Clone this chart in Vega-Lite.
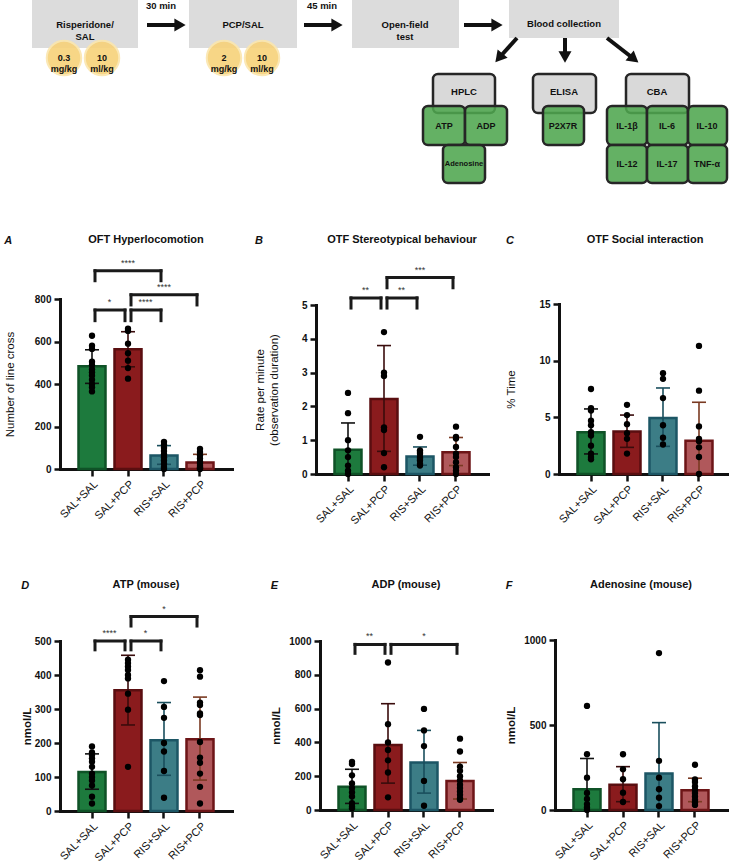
{
"$schema":"https://vega.github.io/schema/vega-lite/v6.json",
"padding":{"left":0,"top":0,"right":0,"bottom":0},
"background":"#ffffff",
"config":{
 "font":"Liberation Sans",
 "view":{"stroke":null},
 "axis":{"grid":false,"domainColor":"#111111","domainWidth":3,"domainCap":"square","tickColor":"#111111","tickWidth":2.5,"labelColor":"#111111","titleColor":"#111111","labelFont":"Liberation Sans","titleFont":"Liberation Sans"},
 "axisY":{"labelFontSize":10,"labelFontWeight":"bold","tickSize":6,"labelPadding":3,"titleFontSize":11.5,"titleFontWeight":"normal","labelOverlap":false,"format":"d"},
 "axisX":{"labelFontSize":11,"labelAngle":-45,"tickSize":7,"labelPadding":2},
 "title":{"fontSize":11,"fontWeight":"bold","color":"#111111","baseline":"bottom","offset":4,"anchor":"middle","font":"Liberation Sans"}
},
"datasets":{
 "anchor":[{"x1":0,"x2":1,"y1":184,"y2":185}],
 "steps":[
  {"x1":32,"x2":138,"y1":0,"y2":48,"cx":85,"cy":25,"t":"Risperidone/\nSAL"},
  {"x1":189,"x2":297,"y1":0,"y2":48,"cx":243,"cy":25,"t":"PCP/SAL"},
  {"x1":352,"x2":459,"y1":0,"y2":48,"cx":405,"cy":25,"t":"Open-field\ntest"},
  {"x1":509,"x2":619,"y1":0,"y2":38,"cx":564,"cy":24,"t":"Blood collection"}
 ],
 "doses":[
  {"cx":64,"cy":58,"t":"0.3\nmg/kg"},{"cx":102,"cy":58,"t":"10\nml/kg"},
  {"cx":224,"cy":58,"t":"2\nmg/kg"},{"cx":262,"cy":58,"t":"10\nml/kg"}
 ],
 "minutes":[{"cx":161,"cy":6,"t":"30 min"},{"cx":322,"cy":6,"t":"45 min"}],
 "arrows":[
  {"x":147,"y":25,"hx":180,"hy":25,"a":90},
  {"x":304,"y":25,"hx":337,"hy":25,"a":90},
  {"x":464,"y":25,"hx":497,"hy":25,"a":90},
  {"x":517,"y":38,"hx":499,"hy":58,"a":220},
  {"x":565,"y":38,"hx":565,"hy":57,"a":180},
  {"x":607,"y":38,"hx":634,"hy":59,"a":129}
 ],
 "labs":[
  {"x1":433,"x2":495,"y1":74,"y2":113,"cx":464,"cy":92,"t":"HPLC"},
  {"x1":533,"x2":596,"y1":74,"y2":113,"cx":564,"cy":92,"t":"ELISA"},
  {"x1":626,"x2":689,"y1":74,"y2":113,"cx":657,"cy":92,"t":"CBA"}
 ],
 "greens":[
  {"x1":423,"x2":465,"y1":106,"y2":145,"cx":444,"cy":126,"t":"ATP"},
  {"x1":465,"x2":507,"y1":106,"y2":145,"cx":486,"cy":126,"t":"ADP"},
  {"x1":443,"x2":485,"y1":145,"y2":183,"cx":464,"cy":164,"t":"Adenosine"},
  {"x1":543,"x2":584,"y1":106,"y2":145,"cx":563,"cy":126,"t":"P2X7R"},
  {"x1":607,"x2":647,"y1":106,"y2":145,"cx":627,"cy":126,"t":"IL-1β"},
  {"x1":647,"x2":688,"y1":106,"y2":145,"cx":667,"cy":126,"t":"IL-6"},
  {"x1":688,"x2":727,"y1":106,"y2":145,"cx":707,"cy":126,"t":"IL-10"},
  {"x1":607,"x2":647,"y1":145,"y2":183,"cx":627,"cy":164,"t":"IL-12"},
  {"x1":647,"x2":688,"y1":145,"y2":183,"cx":667,"cy":164,"t":"IL-17"},
  {"x1":688,"x2":727,"y1":145,"y2":183,"cx":707,"cy":164,"t":"TNF-α"}
 ],
 "bars":[
  {"p":"A","g":"SAL+SAL","m":483,"lo":403,"hi":561},
  {"p":"A","g":"SAL+PCP","m":563,"lo":481,"hi":646},
  {"p":"A","g":"RIS+SAL","m":63,"lo":22,"hi":110},
  {"p":"A","g":"RIS+PCP","m":31,"lo":0,"hi":69},
  {"p":"B","g":"SAL+SAL","m":0.72,"lo":0,"hi":1.51},
  {"p":"B","g":"SAL+PCP","m":2.22,"lo":0.67,"hi":3.8},
  {"p":"B","g":"RIS+SAL","m":0.52,"lo":0.26,"hi":0.8},
  {"p":"B","g":"RIS+PCP","m":0.64,"lo":0.25,"hi":1.08},
  {"p":"C","g":"SAL+SAL","m":3.68,"lo":1.77,"hi":5.74},
  {"p":"C","g":"SAL+PCP","m":3.76,"lo":2.35,"hi":5.2},
  {"p":"C","g":"RIS+SAL","m":4.94,"lo":2.44,"hi":7.59},
  {"p":"C","g":"RIS+PCP","m":2.94,"lo":0,"hi":6.33},
  {"p":"D","g":"SAL+SAL","m":115,"lo":64,"hi":168},
  {"p":"D","g":"SAL+PCP","m":355,"lo":253,"hi":458},
  {"p":"D","g":"RIS+SAL","m":208,"lo":105,"hi":319},
  {"p":"D","g":"RIS+PCP","m":211,"lo":91,"hi":335},
  {"p":"E","g":"SAL+SAL","m":137,"lo":39,"hi":241},
  {"p":"E","g":"SAL+PCP","m":384,"lo":159,"hi":629},
  {"p":"E","g":"RIS+SAL","m":281,"lo":100,"hi":471},
  {"p":"E","g":"RIS+PCP","m":172,"lo":65,"hi":281},
  {"p":"F","g":"SAL+SAL","m":122,"lo":0,"hi":303},
  {"p":"F","g":"SAL+PCP","m":149,"lo":49,"hi":255},
  {"p":"F","g":"RIS+SAL","m":214,"lo":0,"hi":514},
  {"p":"F","g":"RIS+PCP","m":116,"lo":49,"hi":187}
 ],
 "br":[
  {"p":"A","a":"SAL+SAL","b":"RIS+SAL","y":933,"y0":886,"s":"****","k":"span","m":"SAL+PCP"},
  {"p":"A","a":"SAL+PCP","b":"RIS+PCP","y":820,"y0":772,"s":"****","k":"span","m":"RIS+SAL"},
  {"p":"A","a":"SAL+SAL","b":"SAL+PCP","y":748,"y0":698,"s":"*","k":"adj"},
  {"p":"A","a":"SAL+PCP","b":"RIS+SAL","y":748,"y0":698,"s":"****","k":"adj"},
  {"p":"B","a":"SAL+SAL","b":"SAL+PCP","y":5.21,"y0":4.91,"s":"**","k":"adj"},
  {"p":"B","a":"SAL+PCP","b":"RIS+SAL","y":5.21,"y0":4.91,"s":"**","k":"adj"},
  {"p":"B","a":"SAL+PCP","b":"RIS+PCP","y":5.81,"y0":5.51,"s":"***","k":"span","m":"RIS+SAL"},
  {"p":"D","a":"SAL+SAL","b":"SAL+PCP","y":500,"y0":474,"s":"****","k":"adj"},
  {"p":"D","a":"SAL+PCP","b":"RIS+SAL","y":500,"y0":474,"s":"*","k":"adj"},
  {"p":"D","a":"SAL+PCP","b":"RIS+PCP","y":572,"y0":544,"s":"*","k":"span","m":"RIS+SAL"},
  {"p":"E","a":"SAL+SAL","b":"SAL+PCP","y":980,"y0":927,"s":"**","k":"adj"},
  {"p":"E","a":"SAL+PCP","b":"RIS+PCP","y":980,"y0":927,"s":"*","k":"span","m":"RIS+SAL"}
 ],
 "pts":[
  {"p":"A","g":"SAL+SAL","v":627},{"p":"A","g":"SAL+SAL","v":580},{"p":"A","g":"SAL+SAL","v":565},{"p":"A","g":"SAL+SAL","v":505},{"p":"A","g":"SAL+SAL","v":490},{"p":"A","g":"SAL+SAL","v":470},{"p":"A","g":"SAL+SAL","v":455},{"p":"A","g":"SAL+SAL","v":440},{"p":"A","g":"SAL+SAL","v":420},{"p":"A","g":"SAL+SAL","v":400},{"p":"A","g":"SAL+SAL","v":385},{"p":"A","g":"SAL+SAL","v":365},
  {"p":"A","g":"SAL+PCP","v":660},{"p":"A","g":"SAL+PCP","v":650},{"p":"A","g":"SAL+PCP","v":590},{"p":"A","g":"SAL+PCP","v":545},{"p":"A","g":"SAL+PCP","v":510},{"p":"A","g":"SAL+PCP","v":475},{"p":"A","g":"SAL+PCP","v":425},
  {"p":"A","g":"RIS+SAL","v":128},{"p":"A","g":"RIS+SAL","v":115},{"p":"A","g":"RIS+SAL","v":100},{"p":"A","g":"RIS+SAL","v":85},{"p":"A","g":"RIS+SAL","v":70},{"p":"A","g":"RIS+SAL","v":55},{"p":"A","g":"RIS+SAL","v":40},{"p":"A","g":"RIS+SAL","v":25},{"p":"A","g":"RIS+SAL","v":10},{"p":"A","g":"RIS+SAL","v":0},
  {"p":"A","g":"RIS+PCP","v":95},{"p":"A","g":"RIS+PCP","v":80},{"p":"A","g":"RIS+PCP","v":65},{"p":"A","g":"RIS+PCP","v":50},{"p":"A","g":"RIS+PCP","v":35},{"p":"A","g":"RIS+PCP","v":25},{"p":"A","g":"RIS+PCP","v":15},{"p":"A","g":"RIS+PCP","v":8},{"p":"A","g":"RIS+PCP","v":3},{"p":"A","g":"RIS+PCP","v":0},
  {"p":"B","g":"SAL+SAL","v":2.4},{"p":"B","g":"SAL+SAL","v":1.8},{"p":"B","g":"SAL+SAL","v":1.0},{"p":"B","g":"SAL+SAL","v":0.7},{"p":"B","g":"SAL+SAL","v":0.5},{"p":"B","g":"SAL+SAL","v":0.25},{"p":"B","g":"SAL+SAL","v":0.1},{"p":"B","g":"SAL+SAL","v":0},
  {"p":"B","g":"SAL+PCP","v":4.2},{"p":"B","g":"SAL+PCP","v":3.0},{"p":"B","g":"SAL+PCP","v":2.9},{"p":"B","g":"SAL+PCP","v":1.38},{"p":"B","g":"SAL+PCP","v":1.3},{"p":"B","g":"SAL+PCP","v":0.62},{"p":"B","g":"SAL+PCP","v":0.2},
  {"p":"B","g":"RIS+SAL","v":1.1},{"p":"B","g":"RIS+SAL","v":0.7},{"p":"B","g":"RIS+SAL","v":0.65},{"p":"B","g":"RIS+SAL","v":0.6},{"p":"B","g":"RIS+SAL","v":0.5},{"p":"B","g":"RIS+SAL","v":0.45},{"p":"B","g":"RIS+SAL","v":0.4},{"p":"B","g":"RIS+SAL","v":0.3},{"p":"B","g":"RIS+SAL","v":0.25},
  {"p":"B","g":"RIS+PCP","v":1.4},{"p":"B","g":"RIS+PCP","v":1.1},{"p":"B","g":"RIS+PCP","v":1.05},{"p":"B","g":"RIS+PCP","v":0.8},{"p":"B","g":"RIS+PCP","v":0.6},{"p":"B","g":"RIS+PCP","v":0.5},{"p":"B","g":"RIS+PCP","v":0.35},{"p":"B","g":"RIS+PCP","v":0.2},{"p":"B","g":"RIS+PCP","v":0.1},{"p":"B","g":"RIS+PCP","v":0},
  {"p":"C","g":"SAL+SAL","v":7.5},{"p":"C","g":"SAL+SAL","v":5.8},{"p":"C","g":"SAL+SAL","v":5.6},{"p":"C","g":"SAL+SAL","v":4.7},{"p":"C","g":"SAL+SAL","v":4.3},{"p":"C","g":"SAL+SAL","v":3.7},{"p":"C","g":"SAL+SAL","v":3.4},{"p":"C","g":"SAL+SAL","v":2.5},{"p":"C","g":"SAL+SAL","v":1.8},{"p":"C","g":"SAL+SAL","v":1.5},{"p":"C","g":"SAL+SAL","v":1.3},
  {"p":"C","g":"SAL+PCP","v":6.1},{"p":"C","g":"SAL+PCP","v":5.2},{"p":"C","g":"SAL+PCP","v":4.4},{"p":"C","g":"SAL+PCP","v":3.6},{"p":"C","g":"SAL+PCP","v":3.1},{"p":"C","g":"SAL+PCP","v":1.8},
  {"p":"C","g":"RIS+SAL","v":8.9},{"p":"C","g":"RIS+SAL","v":8.4},{"p":"C","g":"RIS+SAL","v":6.7},{"p":"C","g":"RIS+SAL","v":4.3},{"p":"C","g":"RIS+SAL","v":3.2},{"p":"C","g":"RIS+SAL","v":2.6},
  {"p":"C","g":"RIS+PCP","v":11.3},{"p":"C","g":"RIS+PCP","v":7.35},{"p":"C","g":"RIS+PCP","v":4.2},{"p":"C","g":"RIS+PCP","v":3.1},{"p":"C","g":"RIS+PCP","v":2.9},{"p":"C","g":"RIS+PCP","v":2.35},{"p":"C","g":"RIS+PCP","v":1.5},{"p":"C","g":"RIS+PCP","v":0},
  {"p":"D","g":"SAL+SAL","v":190},{"p":"D","g":"SAL+SAL","v":172},{"p":"D","g":"SAL+SAL","v":165},{"p":"D","g":"SAL+SAL","v":155},{"p":"D","g":"SAL+SAL","v":145},{"p":"D","g":"SAL+SAL","v":130},{"p":"D","g":"SAL+SAL","v":110},{"p":"D","g":"SAL+SAL","v":100},{"p":"D","g":"SAL+SAL","v":90},{"p":"D","g":"SAL+SAL","v":75},{"p":"D","g":"SAL+SAL","v":42},{"p":"D","g":"SAL+SAL","v":22},
  {"p":"D","g":"SAL+PCP","v":445},{"p":"D","g":"SAL+PCP","v":435},{"p":"D","g":"SAL+PCP","v":425},{"p":"D","g":"SAL+PCP","v":415},{"p":"D","g":"SAL+PCP","v":400},{"p":"D","g":"SAL+PCP","v":390},{"p":"D","g":"SAL+PCP","v":345},{"p":"D","g":"SAL+PCP","v":298},{"p":"D","g":"SAL+PCP","v":130},
  {"p":"D","g":"RIS+SAL","v":382},{"p":"D","g":"RIS+SAL","v":306},{"p":"D","g":"RIS+SAL","v":274},{"p":"D","g":"RIS+SAL","v":200},{"p":"D","g":"RIS+SAL","v":175},{"p":"D","g":"RIS+SAL","v":118},{"p":"D","g":"RIS+SAL","v":39},
  {"p":"D","g":"RIS+PCP","v":414},{"p":"D","g":"RIS+PCP","v":395},{"p":"D","g":"RIS+PCP","v":319},{"p":"D","g":"RIS+PCP","v":312},{"p":"D","g":"RIS+PCP","v":287},{"p":"D","g":"RIS+PCP","v":282},{"p":"D","g":"RIS+PCP","v":203},{"p":"D","g":"RIS+PCP","v":157},{"p":"D","g":"RIS+PCP","v":142},{"p":"D","g":"RIS+PCP","v":110},{"p":"D","g":"RIS+PCP","v":71},{"p":"D","g":"RIS+PCP","v":22},
  {"p":"E","g":"SAL+SAL","v":285},{"p":"E","g":"SAL+SAL","v":272},{"p":"E","g":"SAL+SAL","v":205},{"p":"E","g":"SAL+SAL","v":157},{"p":"E","g":"SAL+SAL","v":130},{"p":"E","g":"SAL+SAL","v":105},{"p":"E","g":"SAL+SAL","v":80},{"p":"E","g":"SAL+SAL","v":40},{"p":"E","g":"SAL+SAL","v":20},{"p":"E","g":"SAL+SAL","v":10},
  {"p":"E","g":"SAL+PCP","v":873},{"p":"E","g":"SAL+PCP","v":508},{"p":"E","g":"SAL+PCP","v":400},{"p":"E","g":"SAL+PCP","v":355},{"p":"E","g":"SAL+PCP","v":294},{"p":"E","g":"SAL+PCP","v":222},{"p":"E","g":"SAL+PCP","v":75},
  {"p":"E","g":"RIS+SAL","v":598},{"p":"E","g":"RIS+SAL","v":471},{"p":"E","g":"RIS+SAL","v":378},{"p":"E","g":"RIS+SAL","v":172},{"p":"E","g":"RIS+SAL","v":25},
  {"p":"E","g":"RIS+PCP","v":422},{"p":"E","g":"RIS+PCP","v":346},{"p":"E","g":"RIS+PCP","v":257},{"p":"E","g":"RIS+PCP","v":232},{"p":"E","g":"RIS+PCP","v":200},{"p":"E","g":"RIS+PCP","v":175},{"p":"E","g":"RIS+PCP","v":150},{"p":"E","g":"RIS+PCP","v":130},{"p":"E","g":"RIS+PCP","v":110},{"p":"E","g":"RIS+PCP","v":90},{"p":"E","g":"RIS+PCP","v":70},{"p":"E","g":"RIS+PCP","v":60},
  {"p":"F","g":"SAL+SAL","v":612},{"p":"F","g":"SAL+SAL","v":328},{"p":"F","g":"SAL+SAL","v":190},{"p":"F","g":"SAL+SAL","v":100},{"p":"F","g":"SAL+SAL","v":65},{"p":"F","g":"SAL+SAL","v":35},{"p":"F","g":"SAL+SAL","v":15},{"p":"F","g":"SAL+SAL","v":0},
  {"p":"F","g":"SAL+PCP","v":328},{"p":"F","g":"SAL+PCP","v":240},{"p":"F","g":"SAL+PCP","v":181},{"p":"F","g":"SAL+PCP","v":102},{"p":"F","g":"SAL+PCP","v":47},
  {"p":"F","g":"RIS+SAL","v":923},{"p":"F","g":"RIS+SAL","v":289},{"p":"F","g":"RIS+SAL","v":190},{"p":"F","g":"RIS+SAL","v":122},{"p":"F","g":"RIS+SAL","v":72},{"p":"F","g":"RIS+SAL","v":23},
  {"p":"F","g":"RIS+PCP","v":266},{"p":"F","g":"RIS+PCP","v":180},{"p":"F","g":"RIS+PCP","v":165},{"p":"F","g":"RIS+PCP","v":140},{"p":"F","g":"RIS+PCP","v":120},{"p":"F","g":"RIS+PCP","v":100},{"p":"F","g":"RIS+PCP","v":80},{"p":"F","g":"RIS+PCP","v":60},{"p":"F","g":"RIS+PCP","v":45},{"p":"F","g":"RIS+PCP","v":30}
 ]
},
"spacing":49,
"vconcat":[
 {"width":669,"height":185,
  "layer":[
   {"data":{"name":"anchor"},"mark":{"type":"rect","color":"#ffffff"},"encoding":{"x":{"field":"x1","type":"quantitative","scale":{"domain":[60,729],"nice":false,"zero":false},"axis":null},"x2":{"field":"x2"},"y":{"field":"y1","type":"quantitative","scale":{"domain":[0,185],"nice":false,"zero":false,"reverse":true},"axis":null},"y2":{"field":"y2"}}},
   {"data":{"name":"steps"},"mark":{"type":"rect","color":"#dcdcdc"},"encoding":{"x":{"field":"x1","type":"quantitative","axis":null},"x2":{"field":"x2"},"y":{"field":"y1","type":"quantitative","axis":null},"y2":{"field":"y2"}}},
   {"data":{"name":"steps"},"mark":{"type":"text","fontWeight":"bold","fontSize":9.5,"lineBreak":"\n","color":"#111111"},"encoding":{"x":{"field":"cx","type":"quantitative","axis":null},"y":{"field":"cy","type":"quantitative","axis":null},"text":{"field":"t"}}},
   {"data":{"name":"doses"},"mark":{"type":"circle","size":1190,"color":"#f7d27a","opacity":0.9,"stroke":"#fbe6ae","strokeWidth":2},"encoding":{"x":{"field":"cx","type":"quantitative","axis":null},"y":{"field":"cy","type":"quantitative","axis":null}}},
   {"data":{"name":"doses"},"mark":{"type":"text","fontWeight":"bold","fontSize":9,"lineBreak":"\n","color":"#111111"},"encoding":{"x":{"field":"cx","type":"quantitative","axis":null},"y":{"field":"cy","type":"quantitative","axis":null},"text":{"field":"t"}}},
   {"data":{"name":"minutes"},"mark":{"type":"text","fontWeight":"bold","fontSize":9.5,"color":"#111111"},"encoding":{"x":{"field":"cx","type":"quantitative","axis":null},"y":{"field":"cy","type":"quantitative","axis":null},"text":{"field":"t"}}},
   {"data":{"name":"arrows"},"mark":{"type":"rule","strokeWidth":4,"color":"#111111"},"encoding":{"x":{"field":"x","type":"quantitative","axis":null},"y":{"field":"y","type":"quantitative","axis":null},"x2":{"field":"hx"},"y2":{"field":"hy"}}},
   {"data":{"name":"arrows"},"mark":{"type":"point","shape":"triangle-up","filled":true,"size":170,"color":"#111111","opacity":1},"encoding":{"x":{"field":"hx","type":"quantitative","axis":null},"y":{"field":"hy","type":"quantitative","axis":null},"angle":{"field":"a","type":"quantitative","scale":null}}},
   {"data":{"name":"labs"},"mark":{"type":"rect","color":"#d9d9d9","stroke":"#262626","strokeWidth":2.5,"cornerRadius":5},"encoding":{"x":{"field":"x1","type":"quantitative","axis":null},"x2":{"field":"x2"},"y":{"field":"y1","type":"quantitative","axis":null},"y2":{"field":"y2"}}},
   {"data":{"name":"labs"},"mark":{"type":"text","fontWeight":"bold","fontSize":9.5,"color":"#111111"},"encoding":{"x":{"field":"cx","type":"quantitative","axis":null},"y":{"field":"cy","type":"quantitative","axis":null},"text":{"field":"t"}}},
   {"data":{"name":"greens"},"mark":{"type":"rect","fill":"#4ea64e","fillOpacity":0.88,"stroke":"#262626","strokeWidth":2.5,"cornerRadius":5},"encoding":{"x":{"field":"x1","type":"quantitative","axis":null},"x2":{"field":"x2"},"y":{"field":"y1","type":"quantitative","axis":null},"y2":{"field":"y2"}}},
   {"data":{"name":"greens"},"transform":[{"filter":"datum.t !== 'Adenosine'"}],"mark":{"type":"text","fontWeight":"bold","fontSize":9,"color":"#111111"},"encoding":{"x":{"field":"cx","type":"quantitative","axis":null},"y":{"field":"cy","type":"quantitative","axis":null},"text":{"field":"t"}}},
   {"data":{"name":"greens"},"transform":[{"filter":"datum.t === 'Adenosine'"}],"mark":{"type":"text","fontWeight":"bold","fontSize":7.5,"color":"#111111"},"encoding":{"x":{"field":"cx","type":"quantitative","axis":null},"y":{"field":"cy","type":"quantitative","axis":null},"text":{"field":"t"}}}
  ]
 },
 {"spacing":52,"vconcat":[
  {"spacing":22,"hconcat":[
   {"title":{"text":"A","anchor":"start","frame":"bounds","fontStyle":"italic","offset":-12},"bounds":"flush","spacing":0,"vconcat":[
    {"width":172,"height":50,"title":"OFT Hyperlocomotion","data":{"values":[{}]},"mark":"text","encoding":{"text":{"value":""}}},
    {"width":172,"height":170,"layer":[
     {"data":{"name":"bars"},"transform":[{"filter":"datum.p==='A'"}],"mark":{"type":"bar","strokeWidth":2.5},"encoding":{"x":{"field":"g","type":"nominal","scale":{"domain":["SAL+SAL","SAL+PCP","RIS+SAL","RIS+PCP"],"paddingInner":0.25,"paddingOuter":0.514},"title":null},"y":{"field":"m","type":"quantitative","scale":{"domain":[0,800],"nice":false},"axis":{"values":[0,200,400,600,800],"tickCount":10,"titlePadding":19},"title":"Number of line cross"},"fill":{"field":"g","type":"nominal","scale":{"domain":["SAL+SAL","SAL+PCP","RIS+SAL","RIS+PCP"],"range":["#1d7a3d","#8a1b1d","#3c7d86","#b0585b"]},"legend":null},"stroke":{"field":"g","type":"nominal","scale":{"domain":["SAL+SAL","SAL+PCP","RIS+SAL","RIS+PCP"],"range":["#0f5227","#5a0e10","#1c5665","#6d1517"]},"legend":null}}},
     {"data":{"name":"bars"},"transform":[{"filter":"datum.p==='A'"}],"mark":{"type":"rule","strokeWidth":1.6},"encoding":{"x":{"field":"g","type":"nominal","title":null},"y":{"field":"lo","type":"quantitative","title":"Number of line cross"},"y2":{"field":"hi"},"color":{"field":"g","type":"nominal","scale":{"domain":["SAL+SAL","SAL+PCP","RIS+SAL","RIS+PCP"],"range":["#111111","#3a0c0c","#1a4f5d","#7a3a22"]},"legend":null}}},
     {"data":{"name":"bars"},"transform":[{"filter":"datum.p==='A'"}],"mark":{"type":"tick","size":14,"thickness":1.6,"opacity":1},"encoding":{"x":{"field":"g","type":"nominal","title":null},"y":{"field":"hi","type":"quantitative","title":"Number of line cross"},"color":{"field":"g","type":"nominal","legend":null}}},
     {"data":{"name":"bars"},"transform":[{"filter":"datum.p==='A' && datum.lo>0"}],"mark":{"type":"tick","size":14,"thickness":1.6,"opacity":1},"encoding":{"x":{"field":"g","type":"nominal","title":null},"y":{"field":"lo","type":"quantitative","title":"Number of line cross"},"color":{"field":"g","type":"nominal","legend":null}}},
     {"data":{"name":"pts"},"transform":[{"filter":"datum.p==='A'"}],"mark":{"type":"circle","size":40,"color":"#000000","opacity":1},"encoding":{"x":{"field":"g","type":"nominal","title":null},"y":{"field":"v","type":"quantitative","title":"Number of line cross"}}},
     {"data":{"name":"br"},"transform":[{"filter":"datum.p==='A'"}],"mark":{"type":"rule","strokeWidth":3,"color":"#1a1a1a","strokeCap":"square","xOffset":3,"x2Offset":-3},"encoding":{"x":{"field":"a","type":"nominal","title":null},"x2":{"field":"b"},"y":{"field":"y","type":"quantitative","title":"Number of line cross"}}},
     {"data":{"name":"br"},"transform":[{"filter":"datum.p==='A'"}],"mark":{"type":"rule","strokeWidth":3,"color":"#1a1a1a","strokeCap":"square","xOffset":3},"encoding":{"x":{"field":"a","type":"nominal","title":null},"y":{"field":"y","type":"quantitative","title":"Number of line cross"},"y2":{"field":"y0"}}},
     {"data":{"name":"br"},"transform":[{"filter":"datum.p==='A'"}],"mark":{"type":"rule","strokeWidth":3,"color":"#1a1a1a","strokeCap":"square","xOffset":-3},"encoding":{"x":{"field":"b","type":"nominal","title":null},"y":{"field":"y","type":"quantitative","title":"Number of line cross"},"y2":{"field":"y0"}}},
     {"data":{"name":"br"},"transform":[{"filter":"datum.p==='A' && datum.k==='adj'"}],"mark":{"type":"text","baseline":"bottom","dy":-3,"fontSize":9,"color":"#333333"},"encoding":{"x":{"field":"a","type":"nominal","bandPosition":1.15,"title":null},"y":{"field":"y","type":"quantitative","title":"Number of line cross"},"text":{"field":"s"}}},
     {"data":{"name":"br"},"transform":[{"filter":"datum.p==='A' && datum.k==='span'"}],"mark":{"type":"text","baseline":"bottom","dy":-3,"fontSize":9,"color":"#333333"},"encoding":{"x":{"field":"m","type":"nominal","title":null},"y":{"field":"y","type":"quantitative","title":"Number of line cross"},"text":{"field":"s"}}}
    ]}
   ]},
   {"spacing":17,"hconcat":[
    {"title":{"text":"B","anchor":"start","frame":"bounds","fontStyle":"italic","offset":-12},"bounds":"flush","spacing":0,"vconcat":[
     {"width":172,"height":56,"title":"OTF Stereotypical behaviour","data":{"values":[{}]},"mark":"text","encoding":{"text":{"value":""}}},
     {"width":172,"height":169,"layer":[
      {"data":{"name":"bars"},"transform":[{"filter":"datum.p==='B'"}],"mark":{"type":"bar","strokeWidth":2.5},"encoding":{"x":{"field":"g","type":"nominal","scale":{"domain":["SAL+SAL","SAL+PCP","RIS+SAL","RIS+PCP"],"paddingInner":0.25,"paddingOuter":0.514},"title":null},"y":{"field":"m","type":"quantitative","scale":{"domain":[0,5],"nice":false},"axis":{"values":[0,1,2,3,4,5],"tickCount":10,"titlePadding":22},"title":["Rate per minute","(observation duration)"]},"fill":{"field":"g","type":"nominal","scale":{"domain":["SAL+SAL","SAL+PCP","RIS+SAL","RIS+PCP"],"range":["#1d7a3d","#8a1b1d","#3c7d86","#b0585b"]},"legend":null},"stroke":{"field":"g","type":"nominal","scale":{"domain":["SAL+SAL","SAL+PCP","RIS+SAL","RIS+PCP"],"range":["#0f5227","#5a0e10","#1c5665","#6d1517"]},"legend":null}}},
      {"data":{"name":"bars"},"transform":[{"filter":"datum.p==='B'"}],"mark":{"type":"rule","strokeWidth":1.6},"encoding":{"x":{"field":"g","type":"nominal","title":null},"y":{"field":"lo","type":"quantitative","title":["Rate per minute","(observation duration)"]},"y2":{"field":"hi"},"color":{"field":"g","type":"nominal","scale":{"domain":["SAL+SAL","SAL+PCP","RIS+SAL","RIS+PCP"],"range":["#111111","#3a0c0c","#1a4f5d","#7a3a22"]},"legend":null}}},
      {"data":{"name":"bars"},"transform":[{"filter":"datum.p==='B'"}],"mark":{"type":"tick","size":14,"thickness":1.6,"opacity":1},"encoding":{"x":{"field":"g","type":"nominal","title":null},"y":{"field":"hi","type":"quantitative","title":["Rate per minute","(observation duration)"]},"color":{"field":"g","type":"nominal","legend":null}}},
      {"data":{"name":"bars"},"transform":[{"filter":"datum.p==='B' && datum.lo>0"}],"mark":{"type":"tick","size":14,"thickness":1.6,"opacity":1},"encoding":{"x":{"field":"g","type":"nominal","title":null},"y":{"field":"lo","type":"quantitative","title":["Rate per minute","(observation duration)"]},"color":{"field":"g","type":"nominal","legend":null}}},
      {"data":{"name":"pts"},"transform":[{"filter":"datum.p==='B'"}],"mark":{"type":"circle","size":40,"color":"#000000","opacity":1},"encoding":{"x":{"field":"g","type":"nominal","title":null},"y":{"field":"v","type":"quantitative","title":["Rate per minute","(observation duration)"]}}},
      {"data":{"name":"br"},"transform":[{"filter":"datum.p==='B'"}],"mark":{"type":"rule","strokeWidth":3,"color":"#1a1a1a","strokeCap":"square","xOffset":3,"x2Offset":-3},"encoding":{"x":{"field":"a","type":"nominal","title":null},"x2":{"field":"b"},"y":{"field":"y","type":"quantitative","title":["Rate per minute","(observation duration)"]}}},
      {"data":{"name":"br"},"transform":[{"filter":"datum.p==='B'"}],"mark":{"type":"rule","strokeWidth":3,"color":"#1a1a1a","strokeCap":"square","xOffset":3},"encoding":{"x":{"field":"a","type":"nominal","title":null},"y":{"field":"y","type":"quantitative","title":["Rate per minute","(observation duration)"]},"y2":{"field":"y0"}}},
      {"data":{"name":"br"},"transform":[{"filter":"datum.p==='B'"}],"mark":{"type":"rule","strokeWidth":3,"color":"#1a1a1a","strokeCap":"square","xOffset":-3},"encoding":{"x":{"field":"b","type":"nominal","title":null},"y":{"field":"y","type":"quantitative","title":["Rate per minute","(observation duration)"]},"y2":{"field":"y0"}}},
      {"data":{"name":"br"},"transform":[{"filter":"datum.p==='B' && datum.k==='adj'"}],"mark":{"type":"text","baseline":"bottom","dy":-3,"fontSize":9,"color":"#333333"},"encoding":{"x":{"field":"a","type":"nominal","bandPosition":1.15,"title":null},"y":{"field":"y","type":"quantitative","title":["Rate per minute","(observation duration)"]},"text":{"field":"s"}}},
      {"data":{"name":"br"},"transform":[{"filter":"datum.p==='B' && datum.k==='span'"}],"mark":{"type":"text","baseline":"bottom","dy":-3,"fontSize":9,"color":"#333333"},"encoding":{"x":{"field":"m","type":"nominal","title":null},"y":{"field":"y","type":"quantitative","title":["Rate per minute","(observation duration)"]},"text":{"field":"s"}}}
     ]}
    ]},
    {"title":{"text":"C","anchor":"start","frame":"bounds","fontStyle":"italic","offset":-12},"bounds":"flush","spacing":0,"vconcat":[
     {"width":172,"height":55,"title":"OTF Social interaction","data":{"values":[{}]},"mark":"text","encoding":{"text":{"value":""}}},
     {"width":172,"height":170,"layer":[
      {"data":{"name":"bars"},"transform":[{"filter":"datum.p==='C'"}],"mark":{"type":"bar","strokeWidth":2.5},"encoding":{"x":{"field":"g","type":"nominal","scale":{"domain":["SAL+SAL","SAL+PCP","RIS+SAL","RIS+PCP"],"paddingInner":0.25,"paddingOuter":0.514},"title":null},"y":{"field":"m","type":"quantitative","scale":{"domain":[0,15],"nice":false},"axis":{"values":[0,5,10,15],"tickCount":10,"titlePadding":22},"title":"% Time"},"fill":{"field":"g","type":"nominal","scale":{"domain":["SAL+SAL","SAL+PCP","RIS+SAL","RIS+PCP"],"range":["#1d7a3d","#8a1b1d","#3c7d86","#b0585b"]},"legend":null},"stroke":{"field":"g","type":"nominal","scale":{"domain":["SAL+SAL","SAL+PCP","RIS+SAL","RIS+PCP"],"range":["#0f5227","#5a0e10","#1c5665","#6d1517"]},"legend":null}}},
      {"data":{"name":"bars"},"transform":[{"filter":"datum.p==='C'"}],"mark":{"type":"rule","strokeWidth":1.6},"encoding":{"x":{"field":"g","type":"nominal","title":null},"y":{"field":"lo","type":"quantitative","title":"% Time"},"y2":{"field":"hi"},"color":{"field":"g","type":"nominal","scale":{"domain":["SAL+SAL","SAL+PCP","RIS+SAL","RIS+PCP"],"range":["#111111","#3a0c0c","#1a4f5d","#7a3a22"]},"legend":null}}},
      {"data":{"name":"bars"},"transform":[{"filter":"datum.p==='C'"}],"mark":{"type":"tick","size":14,"thickness":1.6,"opacity":1},"encoding":{"x":{"field":"g","type":"nominal","title":null},"y":{"field":"hi","type":"quantitative","title":"% Time"},"color":{"field":"g","type":"nominal","legend":null}}},
      {"data":{"name":"bars"},"transform":[{"filter":"datum.p==='C' && datum.lo>0"}],"mark":{"type":"tick","size":14,"thickness":1.6,"opacity":1},"encoding":{"x":{"field":"g","type":"nominal","title":null},"y":{"field":"lo","type":"quantitative","title":"% Time"},"color":{"field":"g","type":"nominal","legend":null}}},
      {"data":{"name":"pts"},"transform":[{"filter":"datum.p==='C'"}],"mark":{"type":"circle","size":40,"color":"#000000","opacity":1},"encoding":{"x":{"field":"g","type":"nominal","title":null},"y":{"field":"v","type":"quantitative","title":"% Time"}}}
     ]}
    ]}
   ]}
  ]},
  {"spacing":38,"hconcat":[
   {"title":{"text":"D","anchor":"start","frame":"bounds","fontStyle":"italic","offset":-12},"bounds":"flush","spacing":0,"vconcat":[
    {"width":172,"height":47,"title":"ATP (mouse)","data":{"values":[{}]},"mark":"text","encoding":{"text":{"value":""}}},
    {"width":172,"height":170,"layer":[
     {"data":{"name":"bars"},"transform":[{"filter":"datum.p==='D'"}],"mark":{"type":"bar","strokeWidth":2.5},"encoding":{"x":{"field":"g","type":"nominal","scale":{"domain":["SAL+SAL","SAL+PCP","RIS+SAL","RIS+PCP"],"paddingInner":0.25,"paddingOuter":0.514},"title":null},"y":{"field":"m","type":"quantitative","scale":{"domain":[0,500],"nice":false},"axis":{"values":[0,100,200,300,400,500],"tickCount":10,"titlePadding":2,"titleFontWeight":"bold"},"title":"nmol/L"},"fill":{"field":"g","type":"nominal","scale":{"domain":["SAL+SAL","SAL+PCP","RIS+SAL","RIS+PCP"],"range":["#1d7a3d","#8a1b1d","#3c7d86","#b0585b"]},"legend":null},"stroke":{"field":"g","type":"nominal","scale":{"domain":["SAL+SAL","SAL+PCP","RIS+SAL","RIS+PCP"],"range":["#0f5227","#5a0e10","#1c5665","#6d1517"]},"legend":null}}},
     {"data":{"name":"bars"},"transform":[{"filter":"datum.p==='D'"}],"mark":{"type":"rule","strokeWidth":1.6},"encoding":{"x":{"field":"g","type":"nominal","title":null},"y":{"field":"lo","type":"quantitative","title":"nmol/L"},"y2":{"field":"hi"},"color":{"field":"g","type":"nominal","scale":{"domain":["SAL+SAL","SAL+PCP","RIS+SAL","RIS+PCP"],"range":["#111111","#3a0c0c","#1a4f5d","#7a3a22"]},"legend":null}}},
     {"data":{"name":"bars"},"transform":[{"filter":"datum.p==='D'"}],"mark":{"type":"tick","size":14,"thickness":1.6,"opacity":1},"encoding":{"x":{"field":"g","type":"nominal","title":null},"y":{"field":"hi","type":"quantitative","title":"nmol/L"},"color":{"field":"g","type":"nominal","legend":null}}},
     {"data":{"name":"bars"},"transform":[{"filter":"datum.p==='D' && datum.lo>0"}],"mark":{"type":"tick","size":14,"thickness":1.6,"opacity":1},"encoding":{"x":{"field":"g","type":"nominal","title":null},"y":{"field":"lo","type":"quantitative","title":"nmol/L"},"color":{"field":"g","type":"nominal","legend":null}}},
     {"data":{"name":"pts"},"transform":[{"filter":"datum.p==='D'"}],"mark":{"type":"circle","size":40,"color":"#000000","opacity":1},"encoding":{"x":{"field":"g","type":"nominal","title":null},"y":{"field":"v","type":"quantitative","title":"nmol/L"}}},
     {"data":{"name":"br"},"transform":[{"filter":"datum.p==='D'"}],"mark":{"type":"rule","strokeWidth":3,"color":"#1a1a1a","strokeCap":"square","xOffset":3,"x2Offset":-3},"encoding":{"x":{"field":"a","type":"nominal","title":null},"x2":{"field":"b"},"y":{"field":"y","type":"quantitative","title":"nmol/L"}}},
     {"data":{"name":"br"},"transform":[{"filter":"datum.p==='D'"}],"mark":{"type":"rule","strokeWidth":3,"color":"#1a1a1a","strokeCap":"square","xOffset":3},"encoding":{"x":{"field":"a","type":"nominal","title":null},"y":{"field":"y","type":"quantitative","title":"nmol/L"},"y2":{"field":"y0"}}},
     {"data":{"name":"br"},"transform":[{"filter":"datum.p==='D'"}],"mark":{"type":"rule","strokeWidth":3,"color":"#1a1a1a","strokeCap":"square","xOffset":-3},"encoding":{"x":{"field":"b","type":"nominal","title":null},"y":{"field":"y","type":"quantitative","title":"nmol/L"},"y2":{"field":"y0"}}},
     {"data":{"name":"br"},"transform":[{"filter":"datum.p==='D' && datum.k==='adj'"}],"mark":{"type":"text","baseline":"bottom","dy":-3,"fontSize":9,"color":"#333333"},"encoding":{"x":{"field":"a","type":"nominal","bandPosition":1.15,"title":null},"y":{"field":"y","type":"quantitative","title":"nmol/L"},"text":{"field":"s"}}},
     {"data":{"name":"br"},"transform":[{"filter":"datum.p==='D' && datum.k==='span'"}],"mark":{"type":"text","baseline":"bottom","dy":-3,"fontSize":9,"color":"#333333"},"encoding":{"x":{"field":"m","type":"nominal","title":null},"y":{"field":"y","type":"quantitative","title":"nmol/L"},"text":{"field":"s"}}}
    ]}
   ]},
   {"spacing":13,"hconcat":[
    {"title":{"text":"E","anchor":"start","frame":"bounds","fontStyle":"italic","offset":-12},"bounds":"flush","spacing":0,"vconcat":[
     {"width":172,"height":47,"title":"ADP (mouse)","data":{"values":[{}]},"mark":"text","encoding":{"text":{"value":""}}},
     {"width":172,"height":169,"layer":[
      {"data":{"name":"bars"},"transform":[{"filter":"datum.p==='E'"}],"mark":{"type":"bar","strokeWidth":2.5},"encoding":{"x":{"field":"g","type":"nominal","scale":{"domain":["SAL+SAL","SAL+PCP","RIS+SAL","RIS+PCP"],"paddingInner":0.25,"paddingOuter":0.514},"title":null},"y":{"field":"m","type":"quantitative","scale":{"domain":[0,1000],"nice":false},"axis":{"values":[0,200,400,600,800,1000],"tickCount":10,"titlePadding":7,"titleFontWeight":"bold"},"title":"nmol/L"},"fill":{"field":"g","type":"nominal","scale":{"domain":["SAL+SAL","SAL+PCP","RIS+SAL","RIS+PCP"],"range":["#1d7a3d","#8a1b1d","#3c7d86","#b0585b"]},"legend":null},"stroke":{"field":"g","type":"nominal","scale":{"domain":["SAL+SAL","SAL+PCP","RIS+SAL","RIS+PCP"],"range":["#0f5227","#5a0e10","#1c5665","#6d1517"]},"legend":null}}},
      {"data":{"name":"bars"},"transform":[{"filter":"datum.p==='E'"}],"mark":{"type":"rule","strokeWidth":1.6},"encoding":{"x":{"field":"g","type":"nominal","title":null},"y":{"field":"lo","type":"quantitative","title":"nmol/L"},"y2":{"field":"hi"},"color":{"field":"g","type":"nominal","scale":{"domain":["SAL+SAL","SAL+PCP","RIS+SAL","RIS+PCP"],"range":["#111111","#3a0c0c","#1a4f5d","#7a3a22"]},"legend":null}}},
      {"data":{"name":"bars"},"transform":[{"filter":"datum.p==='E'"}],"mark":{"type":"tick","size":14,"thickness":1.6,"opacity":1},"encoding":{"x":{"field":"g","type":"nominal","title":null},"y":{"field":"hi","type":"quantitative","title":"nmol/L"},"color":{"field":"g","type":"nominal","legend":null}}},
      {"data":{"name":"bars"},"transform":[{"filter":"datum.p==='E' && datum.lo>0"}],"mark":{"type":"tick","size":14,"thickness":1.6,"opacity":1},"encoding":{"x":{"field":"g","type":"nominal","title":null},"y":{"field":"lo","type":"quantitative","title":"nmol/L"},"color":{"field":"g","type":"nominal","legend":null}}},
      {"data":{"name":"pts"},"transform":[{"filter":"datum.p==='E'"}],"mark":{"type":"circle","size":40,"color":"#000000","opacity":1},"encoding":{"x":{"field":"g","type":"nominal","title":null},"y":{"field":"v","type":"quantitative","title":"nmol/L"}}},
      {"data":{"name":"br"},"transform":[{"filter":"datum.p==='E'"}],"mark":{"type":"rule","strokeWidth":3,"color":"#1a1a1a","strokeCap":"square","xOffset":3,"x2Offset":-3},"encoding":{"x":{"field":"a","type":"nominal","title":null},"x2":{"field":"b"},"y":{"field":"y","type":"quantitative","title":"nmol/L"}}},
      {"data":{"name":"br"},"transform":[{"filter":"datum.p==='E'"}],"mark":{"type":"rule","strokeWidth":3,"color":"#1a1a1a","strokeCap":"square","xOffset":3},"encoding":{"x":{"field":"a","type":"nominal","title":null},"y":{"field":"y","type":"quantitative","title":"nmol/L"},"y2":{"field":"y0"}}},
      {"data":{"name":"br"},"transform":[{"filter":"datum.p==='E'"}],"mark":{"type":"rule","strokeWidth":3,"color":"#1a1a1a","strokeCap":"square","xOffset":-3},"encoding":{"x":{"field":"b","type":"nominal","title":null},"y":{"field":"y","type":"quantitative","title":"nmol/L"},"y2":{"field":"y0"}}},
      {"data":{"name":"br"},"transform":[{"filter":"datum.p==='E' && datum.k==='adj'"}],"mark":{"type":"text","baseline":"bottom","dy":-3,"fontSize":9,"color":"#333333"},"encoding":{"x":{"field":"a","type":"nominal","bandPosition":1.15,"title":null},"y":{"field":"y","type":"quantitative","title":"nmol/L"},"text":{"field":"s"}}},
      {"data":{"name":"br"},"transform":[{"filter":"datum.p==='E' && datum.k==='span'"}],"mark":{"type":"text","baseline":"bottom","dy":-3,"fontSize":9,"color":"#333333"},"encoding":{"x":{"field":"m","type":"nominal","title":null},"y":{"field":"y","type":"quantitative","title":"nmol/L"},"text":{"field":"s"}}}
     ]}
    ]},
    {"title":{"text":"F","anchor":"start","frame":"bounds","fontStyle":"italic","offset":-12},"bounds":"flush","spacing":0,"vconcat":[
     {"width":172,"height":46,"title":"Adenosine (mouse)","data":{"values":[{}]},"mark":"text","encoding":{"text":{"value":""}}},
     {"width":172,"height":170,"layer":[
      {"data":{"name":"bars"},"transform":[{"filter":"datum.p==='F'"}],"mark":{"type":"bar","strokeWidth":2.5},"encoding":{"x":{"field":"g","type":"nominal","scale":{"domain":["SAL+SAL","SAL+PCP","RIS+SAL","RIS+PCP"],"paddingInner":0.25,"paddingOuter":0.514},"title":null},"y":{"field":"m","type":"quantitative","scale":{"domain":[0,1000],"nice":false},"axis":{"values":[0,500,1000],"tickCount":10,"titlePadding":7,"titleFontWeight":"bold"},"title":"nmol/L"},"fill":{"field":"g","type":"nominal","scale":{"domain":["SAL+SAL","SAL+PCP","RIS+SAL","RIS+PCP"],"range":["#1d7a3d","#8a1b1d","#3c7d86","#b0585b"]},"legend":null},"stroke":{"field":"g","type":"nominal","scale":{"domain":["SAL+SAL","SAL+PCP","RIS+SAL","RIS+PCP"],"range":["#0f5227","#5a0e10","#1c5665","#6d1517"]},"legend":null}}},
      {"data":{"name":"bars"},"transform":[{"filter":"datum.p==='F'"}],"mark":{"type":"rule","strokeWidth":1.6},"encoding":{"x":{"field":"g","type":"nominal","title":null},"y":{"field":"lo","type":"quantitative","title":"nmol/L"},"y2":{"field":"hi"},"color":{"field":"g","type":"nominal","scale":{"domain":["SAL+SAL","SAL+PCP","RIS+SAL","RIS+PCP"],"range":["#111111","#3a0c0c","#1a4f5d","#7a3a22"]},"legend":null}}},
      {"data":{"name":"bars"},"transform":[{"filter":"datum.p==='F'"}],"mark":{"type":"tick","size":14,"thickness":1.6,"opacity":1},"encoding":{"x":{"field":"g","type":"nominal","title":null},"y":{"field":"hi","type":"quantitative","title":"nmol/L"},"color":{"field":"g","type":"nominal","legend":null}}},
      {"data":{"name":"bars"},"transform":[{"filter":"datum.p==='F' && datum.lo>0"}],"mark":{"type":"tick","size":14,"thickness":1.6,"opacity":1},"encoding":{"x":{"field":"g","type":"nominal","title":null},"y":{"field":"lo","type":"quantitative","title":"nmol/L"},"color":{"field":"g","type":"nominal","legend":null}}},
      {"data":{"name":"pts"},"transform":[{"filter":"datum.p==='F'"}],"mark":{"type":"circle","size":40,"color":"#000000","opacity":1},"encoding":{"x":{"field":"g","type":"nominal","title":null},"y":{"field":"v","type":"quantitative","title":"nmol/L"}}}
     ]}
    ]}
   ]}
  ]}
 ]}
]
}
